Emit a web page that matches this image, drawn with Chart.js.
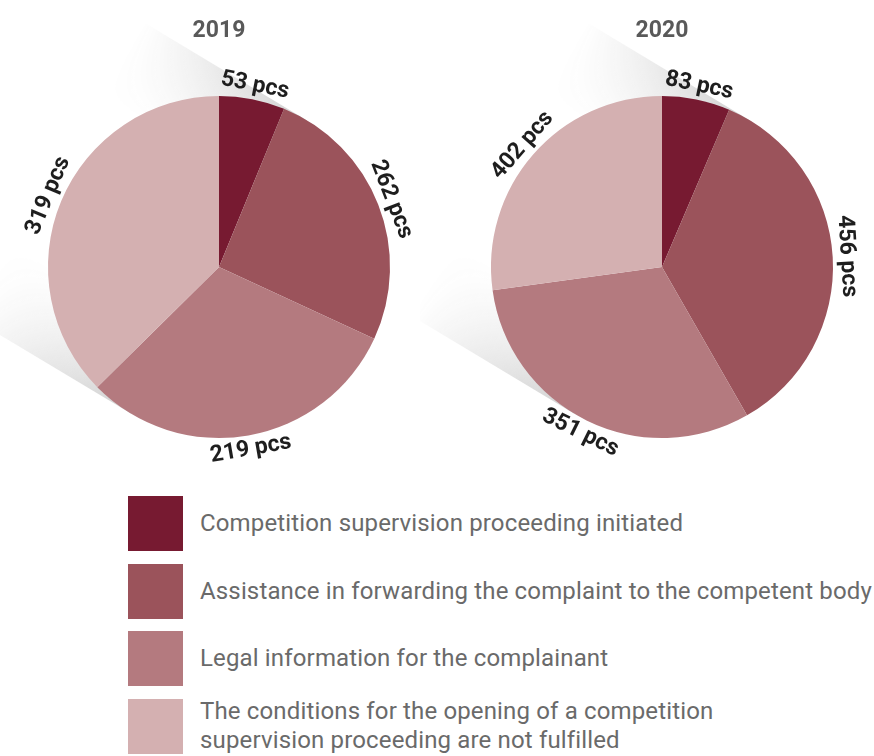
<!DOCTYPE html>
<html>
<head>
<meta charset="utf-8">
<script src="https://cdn.jsdelivr.net/npm/chart.js@4.4.1/dist/chart.umd.min.js"></script>
<style>
  body{margin:0;background:#fff;}
  #wrap{position:relative;width:874px;height:756px;overflow:hidden;font-family:Roboto, "Noto Sans", sans-serif;}
  #box1{position:absolute;left:0;top:0;width:440px;height:470px;}
  #box2{position:absolute;left:420px;top:0;width:454px;height:470px;}
  #legend{position:absolute;left:128px;top:496px;}
  .row{display:flex;align-items:center;height:55px;margin-bottom:12.5px;}
  .sw{width:55px;height:55px;flex:none;}
  .txt{margin-left:17px;font-size:24px;letter-spacing:0.15px;line-height:29px;color:#6a6a6a;white-space:pre-line;}
</style>
</head>
<body>
<div id="wrap">
  <div id="box1"><canvas id="grafico1"></canvas></div>
  <div id="box2"><canvas id="grafico2"></canvas></div>
  <div id="legend"></div>
</div>
<script>
// categories (legend order = slice order, clockwise from the top)
const categorias = [
  'Competition supervision proceeding initiated',
  'Assistance in forwarding the complaint to the competent body',
  'Legal information for the complainant',
  'The conditions for the opening of a competition\nsupervision proceeding are not fulfilled'
];
const colores = ['#771a31', '#9b535b', '#b47a7f', '#d4b0b1'];

// slice sizes as drawn in the picture
const valores2019 = [53, 219, 262, 319];
const valores2020 = [83, 456, 402, 351];
// numbers printed next to each slice
const etiquetas2019 = [53, 262, 219, 319];
const etiquetas2020 = [83, 456, 351, 402];

// legend
let leg = document.getElementById('legend');
categorias.forEach((c, i) => {
  let row = document.createElement('div');
  row.className = 'row';
  row.innerHTML = '<div class="sw" style="background:' + colores[i] + '"></div><div class="txt"></div>';
  row.querySelector('.txt').textContent = c;
  leg.appendChild(row);
});

// long soft shadow behind the pie, going up-left
const sombra = {
  id: 'sombra',
  beforeDatasetsDraw(chart) {
    let arc = chart.getDatasetMeta(0).data[0];
    if (!arc) return;
    let cx = arc.x, cy = arc.y, r = arc.outerRadius;
    let a = 31 * Math.PI / 180;
    let dx = -Math.cos(a), dy = -Math.sin(a);
    let nx = Math.sin(a), ny = -Math.cos(a);   // perpendicular, up-right
    let L = 190;
    let p1x = cx + r * nx, p1y = cy + r * ny;
    let p2x = cx - r * nx, p2y = cy - r * ny;
    let off = document.createElement('canvas');
    off.width = chart.width; off.height = chart.height;
    let o = off.getContext('2d');
    let g = o.createLinearGradient(p1x, p1y, p2x, p2y);
    g.addColorStop(0, 'rgba(60,60,60,0.24)');
    g.addColorStop(0.25, 'rgba(60,60,60,0)');
    g.addColorStop(0.75, 'rgba(60,60,60,0)');
    g.addColorStop(1, 'rgba(60,60,60,0.24)');
    o.fillStyle = g;
    o.beginPath();
    o.moveTo(p1x, p1y);
    o.lineTo(p1x + L * dx, p1y + L * dy);
    o.lineTo(p2x + L * dx, p2y + L * dy);
    o.lineTo(p2x, p2y);
    o.closePath();
    o.fill();
    o.globalCompositeOperation = 'destination-in';
    let f = o.createLinearGradient(cx, cy, cx + L * dx, cy + L * dy);
    f.addColorStop(0, 'rgba(0,0,0,1)');
    f.addColorStop(1, 'rgba(0,0,0,0)');
    o.fillStyle = f;
    o.fillRect(0, 0, off.width, off.height);
    chart.ctx.drawImage(off, 0, 0, chart.width, chart.height);
  }
};

// "NN pcs" labels bent along the rim
const rotulos = {
  id: 'rotulos',
  afterDatasetsDraw(chart, args, opts) {
    let ctx = chart.ctx;
    let meta = chart.getDatasetMeta(0);
    ctx.save();
    ctx.font = 'bold 23px Roboto';
    ctx.fillStyle = '#1e1e1e';
    ctx.textAlign = 'center';
    ctx.textBaseline = 'middle';
    meta.data.forEach((arc, i) => {
      let mid = (arc.startAngle + arc.endAngle) / 2;
      let rr = arc.outerRadius + 14;
      ctx.save();
      ctx.translate(arc.x + rr * Math.cos(mid), arc.y + rr * Math.sin(mid));
      if (Math.sin(mid) > 0.2) ctx.rotate(mid - Math.PI / 2);
      else ctx.rotate(mid + Math.PI / 2);
      ctx.fillText(opts.textos[i] + ' pcs', 0, 0);
      ctx.restore();
    });
    ctx.restore();
  }
};

function pastel(id, titulo, valores, textos, pad) {
  let canvas = document.getElementById(id).getContext('2d');
  return new Chart(canvas, {
    type: 'pie',
    data: {
      labels: categorias,
      datasets: [{
        data: valores,
        backgroundColor: colores,
        borderWidth: 0
      }]
    },
    options: {
      responsive: true,
      maintainAspectRatio: false,
      animation: false,
      layout: { padding: pad },
      plugins: {
        legend: { display: false },
        tooltip: { enabled: false },
        title: {
          display: true,
          text: titulo,
          color: '#595959',
          font: { family: 'Roboto', size: 23, weight: 'bold', lineHeight: 1.2 },
          padding: { top: 17, bottom: 51.4 }
        },
        rotulos: { textos: textos }
      }
    },
    plugins: [sombra, rotulos]
  });
}

pastel('grafico1', '2019', valores2019, etiquetas2019, { left: 48, right: 50, top: 0, bottom: 32 });
pastel('grafico2', '2020', valores2020, etiquetas2020, { left: 71, right: 41, top: 0, bottom: 32 });
</script>
</body>
</html>
